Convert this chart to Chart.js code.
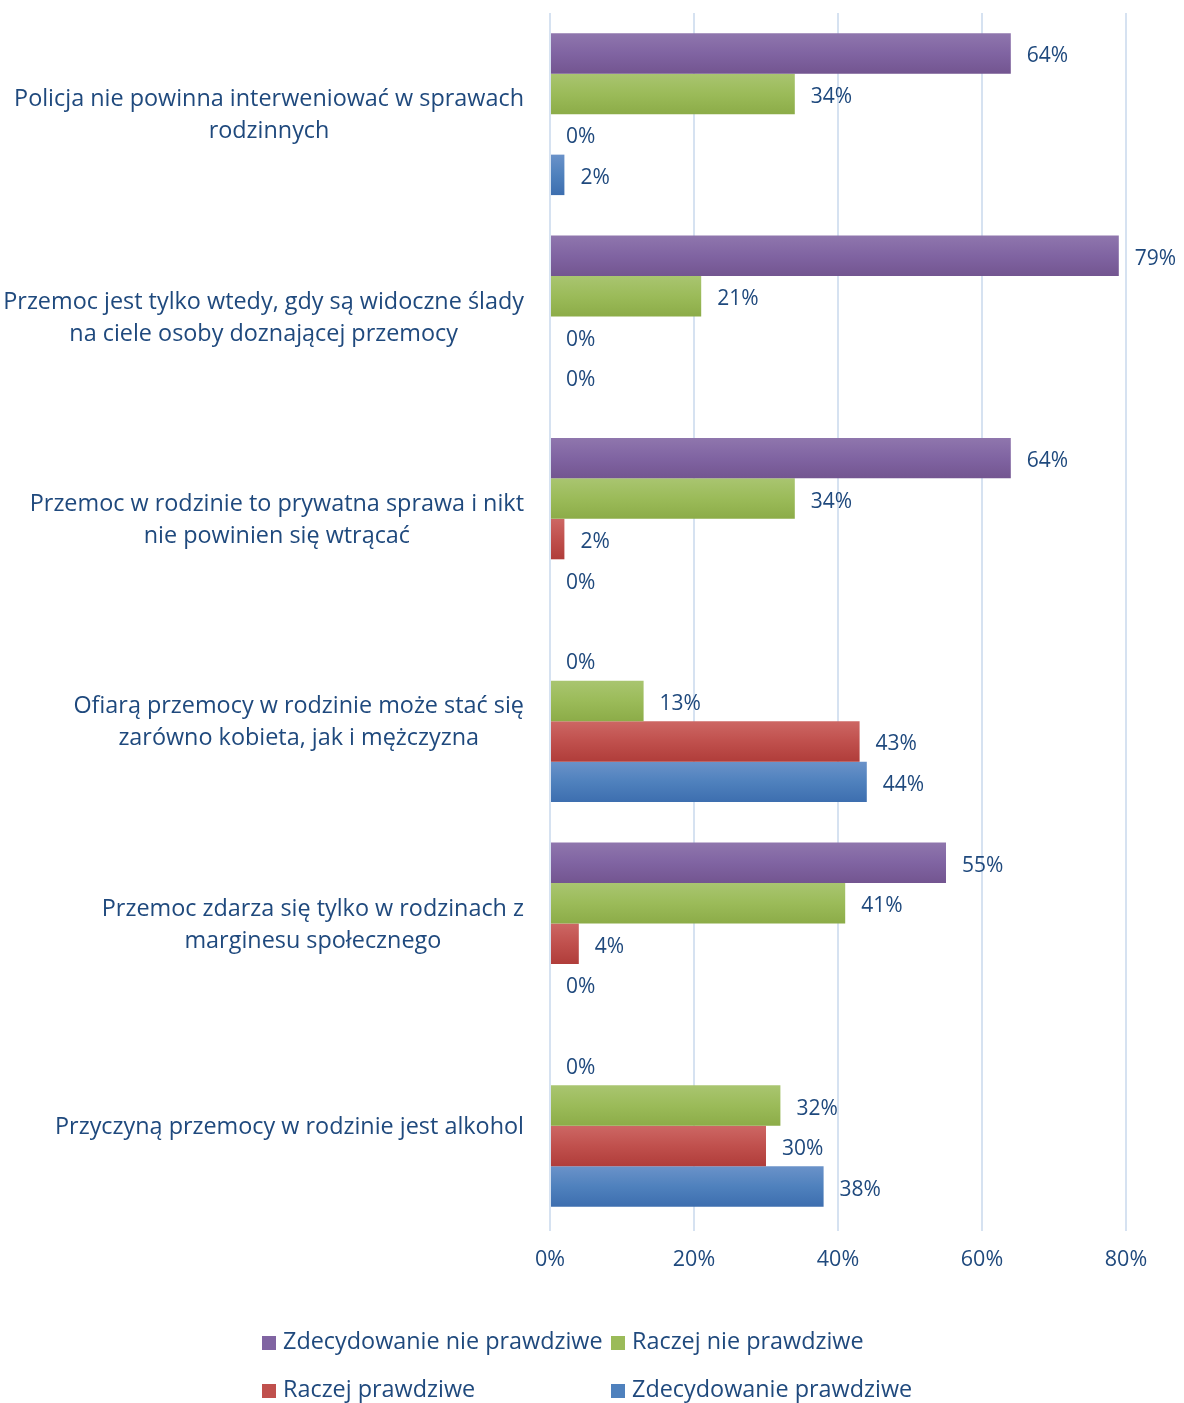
<!DOCTYPE html>
<html>
<head>
<meta charset="utf-8">
<script src="https://cdn.jsdelivr.net/npm/chart.js@4.4.0/dist/chart.umd.min.js"></script>
<style>
body { margin: 0; background: #fff; }
#wrap { position: relative; width: 1184px; height: 1403px; }
.leg { position: absolute; font: 23.4px "Open Sans"; color: #1f497d; line-height: 30px; white-space: nowrap; }
.leg i { display: inline-block; width: 14px; height: 14px; margin-right: 7px; vertical-align: -1px; }
</style>
</head>
<body>
<div id="wrap">
  <canvas id="myChart" width="1184" height="1403"></canvas>
  <div class="leg" style="left:262px;top:1325px"><i style="background:#8064a2"></i>Zdecydowanie nie prawdziwe</div>
  <div class="leg" style="left:611px;top:1325px"><i style="background:#9bbb59"></i>Raczej nie prawdziwe</div>
  <div class="leg" style="left:262px;top:1373px"><i style="background:#c0504d"></i>Raczej prawdziwe</div>
  <div class="leg" style="left:611px;top:1373px"><i style="background:#4f81bd"></i>Zdecydowanie prawdziwe</div>
</div>
<script>
// kategorie (etykiety osi Y, w liniach)
var categories = [
    ['Policja nie powinna interweniować w sprawach', 'rodzinnych'],
    ['Przemoc jest tylko wtedy, gdy są widoczne ślady', 'na ciele osoby doznającej przemocy'],
    ['Przemoc w rodzinie to prywatna sprawa i nikt', 'nie powinien się wtrącać'],
    ['Ofiarą przemocy w rodzinie może stać się', 'zarówno kobieta, jak i mężczyzna'],
    ['Przemoc zdarza się tylko w rodzinach z', 'marginesu społecznego'],
    ['Przyczyną przemocy w rodzinie jest alkohol']
];
var seriesNames = ['Zdecydowanie nie prawdziwe', 'Raczej nie prawdziwe', 'Raczej prawdziwe', 'Zdecydowanie prawdziwe'];

// wartości w %
var zdecydowanieNie = [64, 79, 64, 0, 55, 0];
var raczejNie = [34, 21, 34, 13, 41, 32];
var raczejTak = [0, 0, 2, 43, 4, 30];
var zdecydowanieTak = [2, 0, 0, 44, 0, 38];

var xTicks = [0, 20, 40, 60, 80];

var textColor = '#1f497d';
var fontFamily = 'Open Sans';

// gradient bars (top, middle, bottom)
var gradients = [
    ['#8f76ad', '#8064a2', '#735590'],
    ['#a9c570', '#9bbb59', '#8cac48'],
    ['#cd6764', '#c0504d', '#b03d3a'],
    ['#6a92c9', '#4f81bd', '#3d6eaf']
];

var gradientBars = {
    id: 'gradientBars',
    beforeDatasetsDraw: function (chart) {
        var c = chart.ctx;
        chart.data.datasets.forEach(function (ds, i) {
            chart.getDatasetMeta(i).data.forEach(function (bar) {
                var h = bar.height;
                var g = c.createLinearGradient(0, bar.y - h / 2, 0, bar.y + h / 2);
                g.addColorStop(0, gradients[i][0]);
                g.addColorStop(0.5, gradients[i][1]);
                g.addColorStop(1, gradients[i][2]);
                bar.options.backgroundColor = g;
            });
        });
    }
};

var valueLabels = {
    id: 'valueLabels',
    afterDatasetsDraw: function (chart) {
        var c = chart.ctx;
        c.save();
        c.font = '21px "' + fontFamily + '"';
        c.fillStyle = textColor;
        c.textAlign = 'left';
        c.textBaseline = 'middle';
        chart.data.datasets.forEach(function (ds, i) {
            chart.getDatasetMeta(i).data.forEach(function (bar, j) {
                c.fillText(ds.data[j] + '%', bar.x + 16, bar.y + 3);
            });
        });
        c.restore();
    }
};

var categoryLabels = {
    id: 'categoryLabels',
    afterDraw: function (chart) {
        var c = chart.ctx;
        var y = chart.scales.y;
        c.save();
        c.font = '23.4px "' + fontFamily + '"';
        c.fillStyle = textColor;
        c.textAlign = 'center';
        c.textBaseline = 'middle';
        categories.forEach(function (lines, i) {
            var w = Math.max.apply(null, lines.map(function (l) { return c.measureText(l).width; }));
            var cx = chart.chartArea.left - 26 - w / 2;
            var cy = y.getPixelForValue(i) + 1.5;
            lines.forEach(function (l, k) {
                c.fillText(l, cx, cy + (k - (lines.length - 1) / 2) * 32);
            });
        });
        c.restore();
    }
};

var ctx = document.getElementById('myChart');

var data = {
    labels: categories.map(function (l) { return l.join(' '); }),
    datasets: [zdecydowanieNie, raczejNie, raczejTak, zdecydowanieTak].map(function (vals, i) {
        return {
            label: seriesNames[i],
            data: vals,
            backgroundColor: function () { return gradients[i][1]; },
            borderWidth: 0,
            barPercentage: 1.0,
            categoryPercentage: 0.8
        };
    })
};

var options = {
    indexAxis: 'y',
    responsive: false,
    animation: false,
    layout: { padding: { top: 13, right: 58, bottom: 116, left: 0 } },
    plugins: {
        legend: { display: false },
        tooltip: { enabled: false }
    },
    scales: {
        x: {
            min: 0,
            max: 80,
            afterBuildTicks: function (axis) {
                axis.ticks = xTicks.map(function (v) { return { value: v }; });
            },
            afterFit: function (axis) { axis.height = 60; },
            grid: { color: '#d6e2f1', lineWidth: 2, tickLength: 4 },
            border: { display: false },
            ticks: {
                color: textColor,
                font: { family: fontFamily, size: 21.5 },
                padding: 16,
                callback: function (v) { return v + '%'; }
            }
        },
        y: {
            afterFit: function (axis) { axis.width = 550; },
            grid: { display: false },
            border: { display: false },
            ticks: { display: false }
        }
    }
};

var myBarChart = new Chart(ctx, {
    type: 'bar',
    data: data,
    options: options,
    plugins: [gradientBars, valueLabels, categoryLabels]
});
</script>
</body>
</html>
